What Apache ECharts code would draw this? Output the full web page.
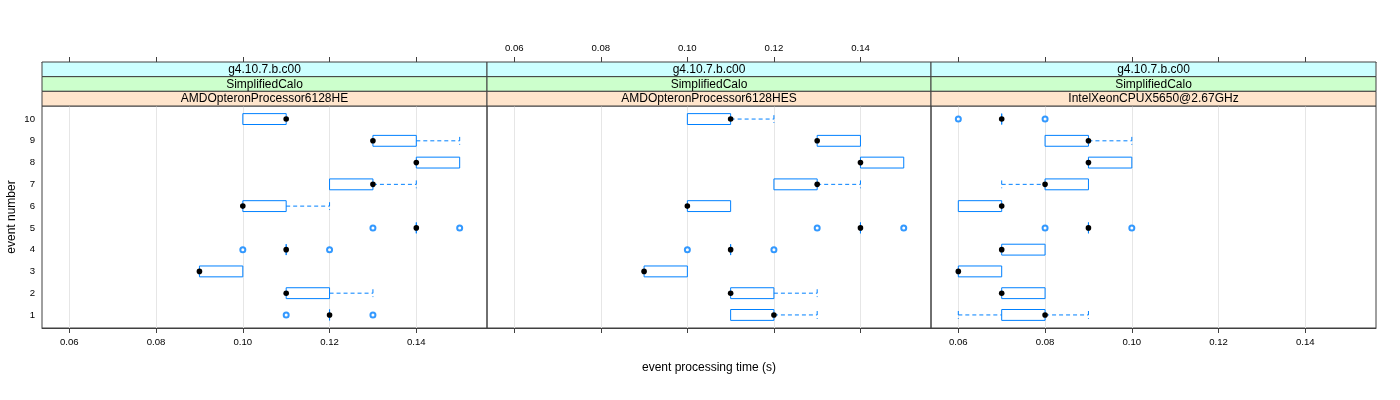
<!DOCTYPE html>
<html><head><meta charset="utf-8">
<script src="https://cdn.jsdelivr.net/npm/echarts@6/dist/echarts.min.js"></script>
<style>html,body{margin:0;padding:0;background:#fff}#c{width:1400px;height:400px}</style>
</head><body><div id="c"></div><script>
// ---------- data ----------
const events = [1, 2, 3, 4, 5, 6, 7, 8, 9, 10];
const xTickValues = [0.06, 0.08, 0.10, 0.12, 0.14];
const yTickValues = [1, 2, 3, 4, 5, 6, 7, 8, 9, 10];
const stripVersion = 'g4.10.7.b.c00';
const stripTest = 'SimplifiedCalo';
const panelNames = ['AMDOpteronProcessor6128HE', 'AMDOpteronProcessor6128HES', 'IntelXeonCPUX5650@2.67GHz'];
const xTitle = 'event processing time (s)';
const yTitle = 'event number';

// AMDOpteronProcessor6128HE (events 1..10)
const heLow  = [0.12, 0.11, 0.09, 0.11, 0.14, 0.10, 0.12, 0.14, 0.13, 0.10];
const heQ1   = [0.12, 0.11, 0.09, 0.11, 0.14, 0.10, 0.12, 0.14, 0.13, 0.10];
const heMed  = [0.12, 0.11, 0.09, 0.11, 0.14, 0.10, 0.13, 0.14, 0.13, 0.11];
const heQ3   = [0.12, 0.12, 0.10, 0.11, 0.14, 0.11, 0.13, 0.15, 0.14, 0.11];
const heHigh = [0.12, 0.13, 0.10, 0.11, 0.14, 0.12, 0.14, 0.15, 0.15, 0.11];
const heOutliers = [[1, 0.11], [1, 0.13], [4, 0.10], [4, 0.12], [5, 0.13], [5, 0.15]];

// AMDOpteronProcessor6128HES
const hesLow  = [0.11, 0.11, 0.09, 0.11, 0.14, 0.10, 0.12, 0.14, 0.13, 0.10];
const hesQ1   = [0.11, 0.11, 0.09, 0.11, 0.14, 0.10, 0.12, 0.14, 0.13, 0.10];
const hesMed  = [0.12, 0.11, 0.09, 0.11, 0.14, 0.10, 0.13, 0.14, 0.13, 0.11];
const hesQ3   = [0.12, 0.12, 0.10, 0.11, 0.14, 0.11, 0.13, 0.15, 0.14, 0.11];
const hesHigh = [0.13, 0.13, 0.10, 0.11, 0.14, 0.11, 0.14, 0.15, 0.14, 0.12];
const hesOutliers = [[4, 0.10], [4, 0.12], [5, 0.13], [5, 0.15]];

// IntelXeonCPUX5650@2.67GHz
const xeLow  = [0.06, 0.07, 0.06, 0.07, 0.09, 0.06, 0.07, 0.09, 0.08, 0.07];
const xeQ1   = [0.07, 0.07, 0.06, 0.07, 0.09, 0.06, 0.08, 0.09, 0.08, 0.07];
const xeMed  = [0.08, 0.07, 0.06, 0.07, 0.09, 0.07, 0.08, 0.09, 0.09, 0.07];
const xeQ3   = [0.08, 0.08, 0.07, 0.08, 0.09, 0.07, 0.09, 0.10, 0.09, 0.07];
const xeHigh = [0.09, 0.08, 0.07, 0.08, 0.09, 0.07, 0.09, 0.10, 0.10, 0.07];
const xeOutliers = [[5, 0.08], [5, 0.10], [10, 0.06], [10, 0.08]];

// ---------- layout / style ----------
const FONT = 'Liberation Sans, Helvetica, Arial, sans-serif';
const BLUE = '#0080ff';
const AXIS = '#404040';
const panelLeft = [42, 487, 931];
const panelWidth = [445, 444, 445];
const panelTop = 106, panelHeight = 222;
const stripTop = 62, stripRowH = 44 / 3;
const stripColors = ['#ccffff', '#ccffcc', '#ffe5cc'];
const X_MIN = 0.0537, X_MAX = 0.1563;

const panelStats = [
  [heLow, heQ1, heMed, heQ3, heHigh, heOutliers],
  [hesLow, hesQ1, hesMed, hesQ3, hesHigh, hesOutliers],
  [xeLow, xeQ1, xeMed, xeQ3, xeHigh, xeOutliers]
];

const grids = [], xAxes = [], yAxes = [], series = [], graphics = [];

panelStats.forEach((st, i) => {
  grids.push({
    left: panelLeft[i], top: panelTop, width: panelWidth[i], height: panelHeight,
    show: true, borderColor: AXIS, borderWidth: 1, backgroundColor: 'transparent'
  });
  // bottom axis
  xAxes.push({
    type: 'value', gridIndex: i, position: 'bottom', min: X_MIN, max: X_MAX,
    axisLine: { show: true, onZero: false, lineStyle: { color: AXIS } },
    axisTick: { show: true, inside: false, length: 5, lineStyle: { color: AXIS }, customValues: xTickValues },
    axisLabel: { show: i !== 1, margin: 9, fontSize: 9.6, fontFamily: FONT, color: '#000',
      customValues: xTickValues, formatter: v => v.toFixed(2) },
    splitLine: { show: true, lineStyle: { color: '#e6e6e6', width: 1 } },
    name: i === 1 ? xTitle : '', nameLocation: 'middle', nameGap: 34,
    nameTextStyle: { fontSize: 12, fontFamily: FONT, color: '#000' }
  });
  // top axis (above strips)
  xAxes.push({
    type: 'value', gridIndex: i, position: 'top', offset: panelTop - stripTop, min: X_MIN, max: X_MAX,
    axisLine: { show: true, onZero: false, lineStyle: { color: AXIS } },
    axisTick: { show: true, inside: false, length: 5, lineStyle: { color: AXIS }, customValues: xTickValues },
    axisLabel: { show: i === 1, margin: 9, fontSize: 9.6, fontFamily: FONT, color: '#000',
      customValues: xTickValues, formatter: v => v.toFixed(2) },
    splitLine: { show: false }
  });
  yAxes.push({
    type: 'value', gridIndex: i, min: 0.4, max: 10.6,
    axisLine: { show: false }, axisTick: { show: false },
    axisLabel: { show: i === 0, margin: 7, fontSize: 9.6, fontFamily: FONT, color: '#000', customValues: yTickValues },
    splitLine: { show: false },
    name: i === 0 ? yTitle : '', nameLocation: 'middle', nameGap: 24, nameRotate: 90,
    nameTextStyle: { fontSize: 12, fontFamily: FONT, color: '#000' }
  });

  const [lo, q1, med, q3, hi, outl] = st;
  const boxData = events.map((e, k) => [e, lo[k], q1[k], med[k], q3[k], hi[k]]);
  series.push({
    type: 'custom', xAxisIndex: 2 * i, yAxisIndex: i, data: boxData, z: 5,
    encode: { y: 0, x: [1, 2, 3, 4, 5] },
    renderItem: (params, api) => {
      const y = api.value(0);
      const pLo = api.coord([api.value(1), y]);
      const pQ1 = api.coord([api.value(2), y]);
      const pMed = api.coord([api.value(3), y]);
      const pQ3 = api.coord([api.value(4), y]);
      const pHi = api.coord([api.value(5), y]);
      const unit = api.size([0, 1])[1];
      const bh = unit * 0.5, ch = unit * 0.18;
      const dash = { stroke: BLUE, lineWidth: 1, lineDash: [4, 3] };
      const kids = [];
      if (pLo[0] < pQ1[0] - 0.5) {
        kids.push({ type: 'line', shape: { x1: pLo[0], y1: pLo[1], x2: pQ1[0], y2: pQ1[1] }, style: dash });
        kids.push({ type: 'line', shape: { x1: pLo[0], y1: pLo[1] - ch, x2: pLo[0], y2: pLo[1] + ch }, style: dash });
      }
      if (pHi[0] > pQ3[0] + 0.5) {
        kids.push({ type: 'line', shape: { x1: pQ3[0], y1: pQ3[1], x2: pHi[0], y2: pHi[1] }, style: dash });
        kids.push({ type: 'line', shape: { x1: pHi[0], y1: pHi[1] - ch, x2: pHi[0], y2: pHi[1] + ch }, style: dash });
      }
      kids.push({ type: 'rect', shape: { x: pQ1[0], y: pQ1[1] - bh / 2, width: pQ3[0] - pQ1[0], height: bh },
        style: { stroke: BLUE, fill: null, lineWidth: 1 } });
      kids.push({ type: 'circle', shape: { cx: pMed[0], cy: pMed[1], r: 2.8 }, style: { fill: '#000' } });
      return { type: 'group', children: kids };
    }
  });
  series.push({
    type: 'scatter', xAxisIndex: 2 * i, yAxisIndex: i, z: 6,
    data: outl.map(d => [d[1], d[0]]),
    symbol: 'emptyCircle', symbolSize: 5,
    itemStyle: { color: BLUE, borderColor: BLUE, borderWidth: 1.5 },
    emphasis: { disabled: true }
  });

  // strips
  const strips = [stripVersion, stripTest, panelNames[i]];
  strips.forEach((txt, r) => {
    graphics.push({
      type: 'rect', z: 10,
      shape: { x: panelLeft[i], y: stripTop + r * stripRowH, width: panelWidth[i], height: stripRowH },
      style: { fill: stripColors[r], stroke: AXIS, lineWidth: 1 }
    });
    graphics.push({
      type: 'text', z: 11,
      x: panelLeft[i] + panelWidth[i] / 2, y: stripTop + (r + 0.5) * stripRowH + 0.5,
      style: { text: txt, font: '12px ' + FONT, fill: '#000', align: 'center', verticalAlign: 'middle' }
    });
  });
});

const chart = echarts.init(document.getElementById('c'), null, { renderer: 'canvas' });
chart.setOption({
  animation: false,
  backgroundColor: '#fff',
  grid: grids, xAxis: xAxes, yAxis: yAxes, series: series, graphic: graphics
});
</script></body></html>
